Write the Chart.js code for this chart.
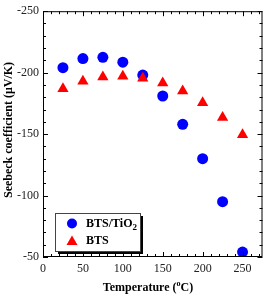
<!DOCTYPE html>
<html>
<head>
<meta charset="utf-8">
<script src="https://cdn.jsdelivr.net/npm/chart.js@4"></script>
<style>
  html, body { margin: 0; padding: 0; background: #fff; }
  #c { display: block; }
</style>
</head>
<body>
<canvas id="c" width="269" height="296"></canvas>
<script>
// values
const temperatures = [25, 50, 75, 100, 125, 150, 175, 200, 225, 250];
const btsTiO2 = [-204, -211.5, -212.5, -208.5, -198, -181, -158, -130, -95, -54];
const bts = [-187, -193, -196.5, -197, -195.5, -191.5, -185, -175.5, -163.5, -149.5];
const xTicks = [0, 50, 100, 150, 200, 250];
const yTicks = [-250, -200, -150, -100, -50];

const serif = "'Liberation Serif', 'Times New Roman', serif";

const toPoints = (xs, ys) => xs.map((x, i) => ({ x: x, y: ys[i] }));

// frame, inward ticks, axis titles and the boxed legend
const decor = {
  id: 'decor',
  afterDraw(chart) {
    const ctx = chart.ctx;
    const a = chart.chartArea;
    const xs = chart.scales.x;
    const ys = chart.scales.y;
    ctx.save();
    ctx.strokeStyle = '#000';
    ctx.lineWidth = 1;
    ctx.strokeRect(a.left + 0.5, a.top + 0.5, a.right - a.left - 1, a.bottom - a.top - 1);

    ctx.beginPath();
    for (let v = 0; v <= 270; v += 10) {
      const px = Math.round(xs.getPixelForValue(v)) + 0.5;
      const len = v % 50 === 0 ? 5 : 3;
      ctx.moveTo(px, a.bottom); ctx.lineTo(px, a.bottom - len);
      ctx.moveTo(px, a.top); ctx.lineTo(px, a.top + len);
    }
    for (let v = -250; v <= -50; v += 10) {
      const py = Math.round(ys.getPixelForValue(v)) + 0.5;
      const len = v % 50 === 0 ? 5 : 3;
      ctx.moveTo(a.left, py); ctx.lineTo(a.left + len, py);
      ctx.moveTo(a.right, py); ctx.lineTo(a.right - len, py);
    }
    ctx.stroke();

    // y title
    ctx.fillStyle = '#000';
    ctx.font = 'bold 12px ' + serif;
    ctx.textAlign = 'center';
    ctx.textBaseline = 'middle';
    ctx.save();
    ctx.translate(9, 130);
    ctx.rotate(-Math.PI / 2);
    ctx.fillText('Seebeck coefficient (\u03bcV/K)', 0, 0);
    ctx.restore();

    // x title with superscript o
    const parts = ['Temperature (', 'o', 'C)'];
    ctx.textAlign = 'left';
    ctx.textBaseline = 'alphabetic';
    ctx.font = 'bold 12px ' + serif;
    const w0 = ctx.measureText(parts[0]).width;
    const w2 = ctx.measureText(parts[2]).width;
    ctx.font = 'bold 8px ' + serif;
    const w1 = ctx.measureText(parts[1]).width;
    let tx = 148 - (w0 + w1 + w2) / 2;
    const ty = 291;
    ctx.font = 'bold 12px ' + serif;
    ctx.fillText(parts[0], tx, ty);
    tx += w0;
    ctx.font = 'bold 8px ' + serif;
    ctx.fillText(parts[1], tx, ty - 5);
    tx += w1;
    ctx.font = 'bold 12px ' + serif;
    ctx.fillText(parts[2], tx, ty);

    // legend box with shadow
    const lx = 55, ly = 213, lw = 85, lh = 38;
    ctx.fillStyle = '#000';
    ctx.fillRect(lx + 3, ly + 3, lw, lh);
    ctx.fillStyle = '#fff';
    ctx.fillRect(lx, ly, lw, lh);
    ctx.strokeStyle = '#444';
    ctx.strokeRect(lx + 0.5, ly + 0.5, lw, lh);

    ctx.fillStyle = '#0000ff';
    ctx.beginPath();
    ctx.arc(72, 223.5, 5, 0, Math.PI * 2);
    ctx.fill();
    ctx.fillStyle = '#ff0000';
    ctx.beginPath();
    ctx.moveTo(72, 235.5);
    ctx.lineTo(77.5, 245);
    ctx.lineTo(66.5, 245);
    ctx.closePath();
    ctx.fill();

    ctx.fillStyle = '#000';
    ctx.textBaseline = 'middle';
    ctx.font = 'bold 12px ' + serif;
    ctx.fillText('BTS/TiO', 86, 223.5);
    const wt = ctx.measureText('BTS/TiO').width;
    ctx.font = 'bold 9px ' + serif;
    ctx.fillText('2', 86 + wt, 227.5);
    ctx.font = 'bold 12px ' + serif;
    ctx.fillText('BTS', 86, 241);
    ctx.restore();
  }
};

new Chart(document.getElementById('c'), {
  type: 'scatter',
  data: {
    datasets: [
      {
        label: 'BTS/TiO2',
        data: toPoints(temperatures, btsTiO2),
        pointStyle: 'circle',
        pointRadius: 5.5,
        backgroundColor: '#0000ff',
        borderColor: '#0000ff',
        borderWidth: 0,
        order: 1
      },
      {
        label: 'BTS',
        data: toPoints(temperatures, bts),
        pointStyle: 'triangle',
        pointRadius: 6.5,
        backgroundColor: '#ff0000',
        borderColor: '#ff0000',
        borderWidth: 0,
        order: 0
      }
    ]
  },
  options: {
    responsive: false,
    animation: false,
    devicePixelRatio: 1,
    layout: { padding: { left: 0, top: 11, right: 1, bottom: 0 } },
    plugins: { legend: { display: false }, tooltip: { enabled: false } },
    scales: {
      x: {
        type: 'linear',
        min: 0,
        max: 275,
        grid: { display: false, drawTicks: false, tickLength: 0 },
        border: { display: false },
        afterBuildTicks: s => { s.ticks = xTicks.map(v => ({ value: v })); },
        afterFit: s => { s.height = 39; },
        ticks: { font: { family: serif, size: 12 }, color: '#222', padding: 5, maxRotation: 0 }
      },
      y: {
        type: 'linear',
        min: -250,
        max: -50,
        reverse: true,
        grid: { display: false, drawTicks: false, tickLength: 0 },
        border: { display: false },
        afterBuildTicks: s => { s.ticks = yTicks.map(v => ({ value: v })); },
        afterFit: s => { s.width = 43; },
        ticks: { font: { family: serif, size: 12 }, color: '#222', padding: 4 }
      }
    }
  },
  plugins: [decor]
});
</script>
</body>
</html>
